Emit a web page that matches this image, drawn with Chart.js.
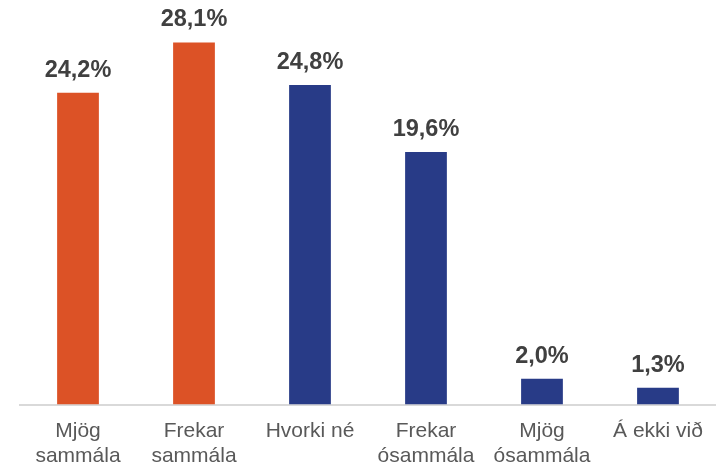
<!DOCTYPE html>
<html>
<head>
<meta charset="utf-8">
<script src="https://cdn.jsdelivr.net/npm/chart.js@4"></script>
<style>
  html, body { margin: 0; padding: 0; background: #fff; }
  #wrap { width: 717px; height: 469px; position: relative; }
</style>
</head>
<body>
<div id="wrap"><canvas id="myChart"></canvas></div>
<script>
const categories = [
  ["Mjög", "sammála"],
  ["Frekar", "sammála"],
  "Hvorki né",
  ["Frekar", "ósammála"],
  ["Mjög", "ósammála"],
  "Á ekki við"
];
const values = [24.2, 28.1, 24.8, 19.6, 2.0, 1.3];
const barColors = ["#DC5226", "#DC5226", "#283B87", "#283B87", "#283B87", "#283B87"];

// value labels above bars
const valueLabels = {
  id: "valueLabels",
  afterDatasetsDraw(chart) {
    const c = chart.ctx;
    const meta = chart.getDatasetMeta(0);
    c.save();
    c.font = "bold 23.5px 'Liberation Sans', Arial, sans-serif";
    c.fillStyle = "#404040";
    c.textAlign = "center";
    c.textBaseline = "alphabetic";
    meta.data.forEach((bar, i) => {
      const txt = values[i].toFixed(1).replace(".", ",") + "%";
      c.fillText(txt, bar.x, bar.y - 16);
    });
    c.restore();
  }
};

new Chart(document.getElementById("myChart"), {
  type: "bar",
  data: {
    labels: categories,
    datasets: [{
      data: values,
      backgroundColor: barColors,
      barPercentage: 0.36,
      categoryPercentage: 1.0
    }]
  },
  options: {
    responsive: true,
    maintainAspectRatio: false,
    animation: false,
    layout: { padding: { top: 18, left: 20, right: 1, bottom: 0 } },
    plugins: { legend: { display: false }, tooltip: { enabled: false } },
    scales: {
      x: {
        grid: { display: false, drawTicks: false },
        border: { display: true, color: "#D9D9D9", width: 2 },
        ticks: {
          color: "#595959",
          font: { family: "'Liberation Sans', Arial, sans-serif", size: 21, lineHeight: 1.2 },
          padding: 14,
          maxRotation: 0,
          autoSkip: false
        },
        afterFit(scale) { scale.height -= 14; } // labels hang to the bottom edge
      },
      y: {
        display: false,
        min: 0,
        max: 30
      }
    }
  },
  plugins: [valueLabels]
});
</script>
</body>
</html>
